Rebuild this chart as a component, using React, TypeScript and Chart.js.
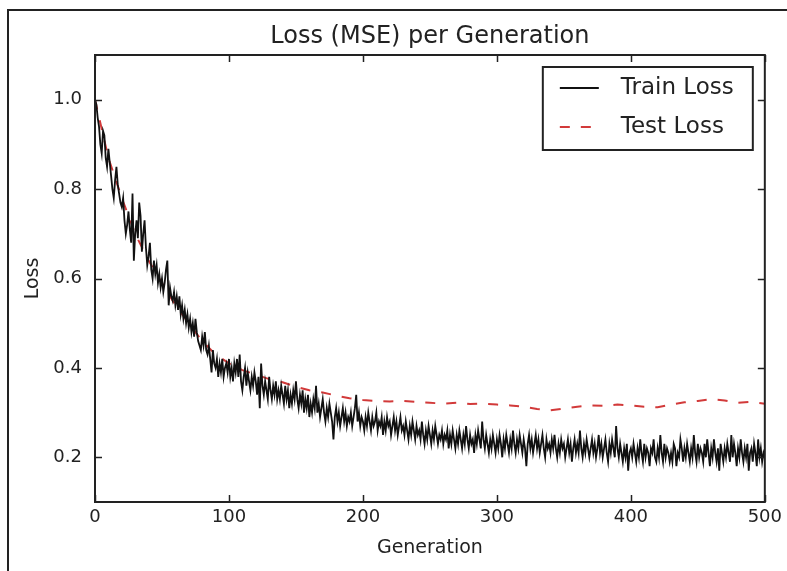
import React, { useEffect, useRef } from 'react';
import { Chart, registerables } from 'chart.js';

Chart.register(...registerables);

const titleText = 'Loss (MSE) per Generation';
const xLabel = 'Generation';
const yLabel = 'Loss';
const seriesNames = ['Train Loss', 'Test Loss'];
const xTicks = [0, 100, 200, 300, 400, 500];
const yTicks = [0.2, 0.4, 0.6, 0.8, 1.0];

// Train loss, one value per generation 0..500
const trainLoss = [
  1.00, 0.99, 0.96, 0.94, 0.90, 0.88, 0.93, 0.92, 0.87, 0.85,
  0.89, 0.86, 0.83, 0.80, 0.78, 0.82, 0.85, 0.81, 0.79, 0.77,
  0.76, 0.78, 0.73, 0.70, 0.72, 0.75, 0.71, 0.68, 0.79, 0.64,
  0.70, 0.73, 0.69, 0.77, 0.74, 0.66, 0.70, 0.73, 0.67, 0.63,
  0.65, 0.68, 0.62, 0.60, 0.64, 0.61, 0.63, 0.59, 0.61, 0.58,
  0.60, 0.57, 0.59, 0.62, 0.64, 0.54, 0.58, 0.56, 0.55, 0.57,
  0.54, 0.56, 0.53, 0.56, 0.52, 0.54, 0.51, 0.53, 0.50, 0.52,
  0.49, 0.51, 0.48, 0.50, 0.47, 0.51, 0.48, 0.46, 0.45, 0.44,
  0.47, 0.45, 0.48, 0.44, 0.43, 0.45, 0.42, 0.39, 0.44, 0.41,
  0.40, 0.42, 0.38, 0.41, 0.39, 0.42, 0.38, 0.40, 0.41, 0.39,
  0.42, 0.38, 0.40, 0.37, 0.41, 0.39, 0.42, 0.38, 0.43, 0.37,
  0.35, 0.38, 0.40, 0.36, 0.39, 0.37, 0.35, 0.38, 0.36, 0.39,
  0.37, 0.34, 0.38, 0.31, 0.41, 0.36, 0.34, 0.37, 0.35, 0.33,
  0.38, 0.35, 0.33, 0.36, 0.34, 0.37, 0.33, 0.35, 0.33, 0.36,
  0.34, 0.32, 0.36, 0.33, 0.35, 0.31, 0.34, 0.32, 0.35, 0.33,
  0.37, 0.33, 0.31, 0.34, 0.32, 0.35, 0.30, 0.33, 0.31, 0.34,
  0.29, 0.32, 0.30, 0.33, 0.31, 0.36, 0.30, 0.32, 0.29, 0.31,
  0.33, 0.30, 0.28, 0.31, 0.29, 0.32, 0.30, 0.28, 0.24, 0.29,
  0.31, 0.28, 0.30, 0.27, 0.29, 0.31, 0.28, 0.30, 0.27, 0.29,
  0.28, 0.30, 0.27, 0.29, 0.31, 0.34, 0.28, 0.30, 0.27, 0.29,
  0.28, 0.26, 0.29, 0.27, 0.30, 0.28, 0.26, 0.29, 0.27, 0.28,
  0.30, 0.26, 0.28, 0.27, 0.29, 0.25, 0.28, 0.26, 0.29, 0.27,
  0.28, 0.25, 0.27, 0.29, 0.26, 0.28, 0.25, 0.27, 0.29, 0.26,
  0.27, 0.25, 0.28, 0.26, 0.24, 0.27, 0.25, 0.28, 0.26, 0.24,
  0.27, 0.25, 0.26, 0.24, 0.28, 0.25, 0.23, 0.26, 0.24, 0.27,
  0.25, 0.23, 0.26, 0.24, 0.27, 0.25, 0.23, 0.25, 0.24, 0.26,
  0.23, 0.25, 0.24, 0.26, 0.22, 0.25, 0.23, 0.26, 0.24, 0.22,
  0.25, 0.23, 0.26, 0.24, 0.22, 0.25, 0.23, 0.27, 0.24, 0.22,
  0.25, 0.23, 0.24, 0.21, 0.25, 0.23, 0.26, 0.24, 0.22, 0.28,
  0.24, 0.22, 0.25, 0.23, 0.21, 0.24, 0.22, 0.25, 0.23, 0.21,
  0.24, 0.22, 0.25, 0.23, 0.20, 0.24, 0.22, 0.25, 0.23, 0.21,
  0.24, 0.22, 0.26, 0.23, 0.21, 0.24, 0.22, 0.25, 0.23, 0.21,
  0.24, 0.22, 0.18, 0.23, 0.25, 0.22, 0.24, 0.21, 0.23, 0.25,
  0.22, 0.24, 0.21, 0.23, 0.25, 0.22, 0.20, 0.24, 0.22, 0.23,
  0.21, 0.24, 0.22, 0.25, 0.22, 0.20, 0.23, 0.21, 0.24, 0.22,
  0.23, 0.20, 0.22, 0.24, 0.21, 0.23, 0.19, 0.22, 0.24, 0.21,
  0.23, 0.21, 0.26, 0.22, 0.20, 0.23, 0.21, 0.24, 0.22, 0.20,
  0.22, 0.24, 0.21, 0.23, 0.20, 0.22, 0.25, 0.21, 0.23, 0.20,
  0.22, 0.24, 0.21, 0.19, 0.23, 0.21, 0.24, 0.22, 0.20, 0.27,
  0.22, 0.20, 0.23, 0.21, 0.19, 0.22, 0.20, 0.23, 0.17, 0.21,
  0.22, 0.20, 0.23, 0.21, 0.19, 0.22, 0.20, 0.24, 0.21, 0.19,
  0.23, 0.20, 0.22, 0.21, 0.18, 0.22, 0.21, 0.24, 0.20, 0.19,
  0.22, 0.20, 0.25, 0.21, 0.19, 0.23, 0.20, 0.22, 0.21, 0.19,
  0.21, 0.19, 0.23, 0.22, 0.18, 0.21, 0.20, 0.24, 0.22, 0.19,
  0.22, 0.20, 0.23, 0.21, 0.19, 0.22, 0.20, 0.25, 0.21, 0.19,
  0.23, 0.20, 0.22, 0.21, 0.19, 0.23, 0.20, 0.24, 0.21, 0.18,
  0.22, 0.20, 0.24, 0.21, 0.19, 0.22, 0.17, 0.23, 0.21, 0.19,
  0.22, 0.20, 0.23, 0.21, 0.19, 0.25, 0.20, 0.23, 0.21, 0.18,
  0.22, 0.20, 0.24, 0.21, 0.19, 0.22, 0.20, 0.23, 0.17, 0.21,
  0.22, 0.19, 0.23, 0.21, 0.18, 0.24, 0.20, 0.22, 0.19, 0.21,
  0.20,
];

// Test loss, sampled every 10 generations
const testGenerations = [
  0, 10, 20, 30, 40, 50, 60, 70, 80, 90,
  100, 110, 120, 130, 140, 150, 160, 170, 180, 190,
  200, 210, 220, 230, 240, 250, 260, 270, 280, 290,
  300, 310, 320, 330, 340, 350, 360, 370, 380, 390,
  400, 410, 420, 430, 440, 450, 460, 470, 480, 490,
  500,
];
const testLoss = [
  1.00, 0.87, 0.78, 0.70, 0.64, 0.59, 0.54, 0.50, 0.46, 0.43,
  0.41, 0.395, 0.385, 0.375, 0.368, 0.358, 0.35, 0.345, 0.338, 0.332,
  0.328, 0.326, 0.325, 0.326, 0.324, 0.322, 0.320, 0.322, 0.319, 0.320,
  0.318, 0.316, 0.313, 0.308, 0.305, 0.309, 0.313, 0.316, 0.315, 0.318,
  0.316, 0.313, 0.312, 0.318, 0.323, 0.326, 0.330, 0.327, 0.322, 0.324,
  0.320,
];

const FONT = "'DejaVu Sans', sans-serif";
const INK = '#222222';
const TRAIN_COLOR = '#111111';
const TEST_COLOR = '#d23a3a';

export default function App() {
  const ref = useRef<HTMLCanvasElement>(null);

  useEffect(() => {
    if (!ref.current) return;
    const trainPoints = trainLoss.map((v, i) => ({ x: i, y: v }));
    const testPoints = testLoss.map((v, i) => ({ x: testGenerations[i], y: v }));

    const framePlugin = {
      id: 'framePlugin',
      afterDraw(chart: any) {
        const { ctx, chartArea } = chart;
        const xs = chart.scales.x;
        const ys = chart.scales.y;
        const { left, right, top, bottom } = chartArea;
        ctx.save();
        ctx.strokeStyle = INK;
        ctx.lineWidth = 1.5;
        const tl = 7;
        ctx.beginPath();
        xTicks.forEach((v) => {
          const px = Math.round(xs.getPixelForValue(v)) + 0.5;
          ctx.moveTo(px, bottom);
          ctx.lineTo(px, bottom - tl);
          ctx.moveTo(px, top);
          ctx.lineTo(px, top + tl);
        });
        yTicks.forEach((v) => {
          const py = Math.round(ys.getPixelForValue(v)) + 0.5;
          ctx.moveTo(left, py);
          ctx.lineTo(left + tl, py);
          ctx.moveTo(right, py);
          ctx.lineTo(right - tl, py);
        });
        ctx.stroke();
        ctx.lineWidth = 2;
        ctx.strokeRect(left, top, right - left, bottom - top);

        // legend box
        const bw = 210;
        const bh = 83;
        const bx = right - 12 - bw;
        const by = top + 12;
        ctx.fillStyle = '#ffffff';
        ctx.fillRect(bx, by, bw, bh);
        ctx.lineWidth = 2;
        ctx.strokeStyle = INK;
        ctx.strokeRect(bx, by, bw, bh);
        const rows = [by + 21, by + 60];
        chart.data.datasets.forEach((ds: any, i: number) => {
          const ry = rows[i];
          ctx.save();
          ctx.strokeStyle = ds.borderColor;
          ctx.lineWidth = ds.borderWidth;
          ctx.setLineDash(ds.borderDash || []);
          ctx.beginPath();
          ctx.moveTo(bx + 17, ry);
          ctx.lineTo(bx + 56, ry);
          ctx.stroke();
          ctx.restore();
          ctx.fillStyle = INK;
          ctx.font = `23px ${FONT}`;
          ctx.textBaseline = 'middle';
          ctx.textAlign = 'left';
          ctx.fillText(ds.label, bx + 78, ry);
        });
        ctx.restore();
      },
    };

    const chart = new Chart(ref.current, {
      type: 'line',
      data: {
        datasets: [
          {
            label: seriesNames[0],
            data: trainPoints,
            borderColor: TRAIN_COLOR,
            borderWidth: 1.8,
            pointRadius: 0,
            tension: 0,
            fill: false,
          },
          {
            label: seriesNames[1],
            data: testPoints,
            borderColor: TEST_COLOR,
            borderWidth: 2,
            borderDash: [10, 11],
            pointRadius: 0,
            tension: 0,
            fill: false,
          },
        ],
      },
      options: {
        animation: false,
        responsive: false,
        maintainAspectRatio: false,
        events: [],
        layout: { padding: { left: 0, right: 22, top: 0, bottom: 0 } },
        plugins: {
          legend: { display: false },
          tooltip: { enabled: false },
          title: {
            display: true,
            fullSize: false,
            text: titleText,
            color: INK,
            font: { family: FONT, size: 24, weight: 'normal', lineHeight: 1 },
            padding: { top: 25, bottom: 6 },
          },
        },
        scales: {
          x: {
            type: 'linear',
            min: 0,
            max: 500,
            afterBuildTicks: (s: any) => {
              s.ticks = xTicks.map((v) => ({ value: v }));
            },
            afterFit: (s: any) => {
              s.height = 69;
            },
            grid: { display: false, drawTicks: false, tickLength: 0 },
            border: { display: false },
            ticks: {
              color: INK,
              font: { family: FONT, size: 18 },
              padding: 5,
              maxRotation: 0,
              autoSkip: false,
              callback: (v: any) => String(v),
            },
            title: {
              display: true,
              text: xLabel,
              color: INK,
              font: { family: FONT, size: 19 },
              padding: { top: 0, bottom: 12 },
            },
          },
          y: {
            type: 'linear',
            min: 0.1,
            max: 1.1,
            afterBuildTicks: (s: any) => {
              s.ticks = yTicks.map((v) => ({ value: v }));
            },
            afterFit: (s: any) => {
              s.width = 95;
            },
            grid: { display: false, drawTicks: false, tickLength: 0 },
            border: { display: false },
            ticks: {
              color: INK,
              font: { family: FONT, size: 18 },
              padding: 13,
              autoSkip: false,
              callback: (v: any) => Number(v).toFixed(1),
            },
            title: {
              display: true,
              text: yLabel,
              color: INK,
              font: { family: FONT, size: 19 },
              padding: { top: 22, bottom: 0 },
            },
          },
        },
      },
      plugins: [framePlugin],
    } as any);
    return () => chart.destroy();
  }, []);

  return (
    <div style={{ position: 'fixed', left: 0, top: 0, width: 787, height: 571, background: '#fff', overflow: 'hidden' }}>
      <canvas ref={ref} width={787} height={571} style={{ display: 'block' }} />
      <div
        style={{
          position: 'absolute',
          left: 7,
          top: 9,
          right: -10,
          bottom: -10,
          borderTop: '2px solid #222',
          borderLeft: '2px solid #222',
          pointerEvents: 'none',
        }}
      />
    </div>
  );
}
